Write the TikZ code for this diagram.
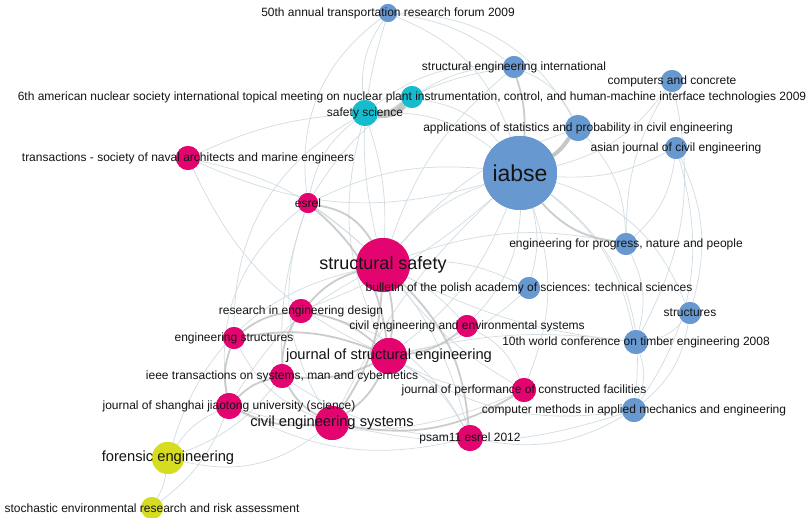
\documentclass[tikz,border=0pt]{standalone}
\usepackage{fontspec}
\setmainfont{Liberation Sans}
\begin{document}
\begin{tikzpicture}[x=1pt,y=-1pt,
  vtx/.style={circle,inner sep=0pt,draw=none},
  pink/.style={vtx,fill=nodepink},
  blue/.style={vtx,fill=nodeblue},
  cyan/.style={vtx,fill=nodecyan},
  yell/.style={vtx,fill=nodeyellow},
  lbl/.style={inner sep=0pt,text=labeltext,font=\fontsize{12}{14}\selectfont},
  lblm/.style={lbl,font=\fontsize{14.7}{17}\selectfont},
  lblb/.style={lbl,font=\fontsize{18}{20}\selectfont},
  faint/.style={draw=edgefaint,line width=0.7pt},
  midedge/.style={draw=edgegray,line width=1.8pt,opacity=0.8},
  heavy/.style={draw=edgegray,line width=4pt,opacity=0.9},
]
\definecolor{nodepink}{RGB}{228,4,112}
\definecolor{nodeblue}{RGB}{104,152,208}
\definecolor{nodecyan}{RGB}{22,188,206}
\definecolor{nodeyellow}{RGB}{214,220,32}
\definecolor{labeltext}{RGB}{20,20,20}
\definecolor{edgefaint}{RGB}{210,220,226}
\definecolor{edgegray}{RGB}{192,192,192}
\fill[white] (0,0) rectangle (806,517);
\useasboundingbox (0,0) rectangle (806,517);

% nodes
\node[blue,minimum size=18pt] (n50) at (388,13) {};
\node[blue,minimum size=22pt] (sei) at (514,67) {};
\node[blue,minimum size=22pt] (cc) at (672,81) {};
\node[cyan,minimum size=22pt] (ans) at (412,97) {};
\node[cyan,minimum size=26pt] (ss) at (365,113) {};
\node[blue,minimum size=26pt] (asp) at (578,128) {};
\node[blue,minimum size=22pt] (ajce) at (676,148) {};
\node[blue,minimum size=74pt] (iabse) at (520,173) {};
\node[pink,minimum size=24pt] (tsna) at (188,158) {};
\node[pink,minimum size=20pt] (esrel) at (308,203) {};
\node[pink,minimum size=54pt] (strs) at (383,265) {};
\node[blue,minimum size=22pt] (efp) at (626,244) {};
\node[blue,minimum size=22pt] (bpas) at (529,288) {};
\node[blue,minimum size=22pt] (structs) at (690,313) {};
\node[pink,minimum size=24pt] (red) at (301,311) {};
\node[pink,minimum size=22pt] (ceen) at (467,326) {};
\node[blue,minimum size=24pt] (wcte) at (636,342) {};
\node[pink,minimum size=22pt] (es) at (234,338) {};
\node[pink,minimum size=36pt] (jse) at (389,356) {};
\node[pink,minimum size=24pt] (ieee) at (282,376) {};
\node[pink,minimum size=24pt] (jpcf) at (524,390) {};
\node[blue,minimum size=24pt] (cmame) at (634,410) {};
\node[pink,minimum size=26pt] (jsju) at (229,406) {};
\node[pink,minimum size=34pt] (ces) at (332,423) {};
\node[pink,minimum size=26pt] (psam) at (470,438) {};
\node[yell,minimum size=32pt] (fe) at (168,458) {};
\node[yell,minimum size=22pt] (sera) at (152,508) {};

% edges
\path[faint]
  (n50) edge[bend right=20] (ss)
  (n50) edge[bend left=25] (iabse)
  (n50) edge[bend right=15] (strs)
  (n50) edge[bend left=15] (sei)
  (n50) edge[bend right=30] (esrel)
  (n50) edge[bend left=30] (asp)
  (sei) edge[bend right=20] (ss)
  (sei) edge[bend right=15] (strs)
  (sei) edge[bend left=20] (asp)
  (sei) edge[bend right=25] (esrel)
  (cc) edge[bend left=20] (iabse)
  (cc) edge[bend left=20] (wcte)
  (cc) edge[bend right=15] (efp)
  (ajce) edge[bend left=15] (iabse)
  (ajce) edge[bend left=20] (structs)
  (ajce) edge[bend left=20] (efp)
  (ajce) edge[bend left=25] (cmame)
  (tsna) edge[bend left=15] (strs)
  (tsna) edge[bend right=20] (jse)
  (tsna) edge[bend left=10] (ss)
  (esrel) edge[bend left=20] (ss)
  (esrel) edge[bend left=15] (iabse)
  (esrel) edge[bend right=25] (ces)
  (esrel) edge[bend right=10] (ieee)
  (esrel) edge[bend right=30] (jsju)
  (ss) edge[bend left=20] (iabse)
  (ss) edge[bend right=20] (jse)
  (ss) edge[bend right=30] (es)
  (ss) edge[bend left=10] (strs)
  (fe) edge[bend left=15] (jsju)
  (fe) edge[bend left=10] (sera)
  (fe) edge[bend right=15] (ieee)
  (fe) edge[bend left=30] (strs)
  (fe) edge[bend right=25] (ces)
  (sera) edge[bend right=15] (jsju)
  (bpas) edge[bend right=15] (iabse)
  (bpas) edge[bend right=15] (strs)
  (bpas) edge[bend left=15] (jse)
  (structs) edge[bend left=20] (wcte)
  (structs) edge[bend right=25] (iabse)
  (structs) edge[bend left=20] (cmame)
  (wcte) edge[bend left=20] (cmame)
  (wcte) edge[bend right=10] (jse)
  (wcte) edge[bend right=20] (iabse)
  (wcte) edge[bend left=10] (strs)
  (cmame) edge[bend left=20] (jse)
  (cmame) edge[bend right=30] (iabse)
  (cmame) edge[bend left=20] (psam)
  (cmame) edge[bend left=15] (ces)
  (jpcf) edge[bend left=15] (jse)
  (jpcf) edge[bend right=20] (iabse)
  (jpcf) edge[bend left=10] (strs)
  (jpcf) edge[bend right=20] (ceen)
  (jpcf) edge[bend left=20] (jsju)
  (psam) edge[bend left=20] (jsju)
  (psam) edge[bend right=20] (esrel)
  (psam) edge[bend right=15] (jse)
  (psam) edge[bend left=15] (ieee)
  (ceen) edge[bend right=20] (iabse)
  (ceen) edge[bend right=10] (strs)
  (iabse) edge[bend right=15] (strs)
  (iabse) edge[bend left=15] (jse)
  (iabse) edge[bend left=10] (red)
  (iabse) edge[bend right=10] (ces)
  (iabse) edge[bend left=20] (tsna)
  (efp) edge[bend right=15] (strs)
  (efp) edge[bend left=20] (wcte)
  (red) edge[bend left=25] (psam)
  (es) edge[bend right=20] (ces)
  (jsju) edge[bend left=15] (strs)
  (asp) edge[bend left=20] (efp)
  (asp) edge[bend right=15] (strs)
  (ans) edge[bend left=15] (sei)
  (ans) edge[bend left=20] (iabse);
\path[midedge]
  (iabse) edge[bend right=10] (sei)
  (iabse) edge[bend right=20] (efp)
  (strs) edge[bend left=10] (jse)
  (strs) edge[bend right=15] (red)
  (strs) edge[bend left=15] (ces)
  (strs) edge[bend left=20] (psam)
  (esrel) edge[bend left=25] (strs)
  (esrel) edge[bend left=20] (jse)
  (red) edge[bend left=15] (jse)
  (red) edge[bend right=15] (es)
  (es) edge[bend left=15] (jse)
  (es) edge[bend right=15] (jsju)
  (jse) edge[bend left=15] (ieee)
  (jse) edge[bend right=15] (ceen)
  (jse) edge[bend left=15] (ces)
  (ieee) edge[bend right=15] (ces)
  (ieee) edge[bend left=15] (red)
  (jsju) edge[bend right=15] (ces)
  (jsju) edge[bend left=15] (ieee)
  (ces) edge[bend right=20] (jpcf);
\path[heavy]
  (iabse) edge[bend right=10] (asp);
\draw[edgegray,line width=7pt,opacity=0.9] (ss) to[bend right=25] (ans);

% redraw nodes on top of edges
\foreach \n/\s/\c/\x/\y in {n50/18/nodeblue/388/13, sei/22/nodeblue/514/67, cc/22/nodeblue/672/81,
  ans/22/nodecyan/412/97, ss/26/nodecyan/365/113, asp/26/nodeblue/578/128, ajce/22/nodeblue/676/148,
  iabse/74/nodeblue/520/173, tsna/24/nodepink/188/158, esrel/20/nodepink/308/203, strs/54/nodepink/383/265,
  efp/22/nodeblue/626/244, bpas/22/nodeblue/529/288, structs/22/nodeblue/690/313, red/24/nodepink/301/311,
  ceen/22/nodepink/467/326, wcte/24/nodeblue/636/342, es/22/nodepink/234/338, jse/36/nodepink/389/356,
  ieee/24/nodepink/282/376, jpcf/24/nodepink/524/390, cmame/24/nodeblue/634/410, jsju/26/nodepink/229/406,
  ces/34/nodepink/332/423, psam/26/nodepink/470/438, fe/32/nodeyellow/168/458, sera/22/nodeyellow/152/508}
  {\fill[\c] (\x,\y) circle[radius=\s/2];}

% labels
\node[lbl] (l-n50) at (n50) {50th annual transportation research forum 2009};
\node[lbl] (l-sei) at (sei) {structural engineering international};
\node[lbl] (l-cc) at (cc) {computers and concrete};
\node[lbl] (l-ans) at (ans) {6th american nuclear society international topical meeting on nuclear plant instrumentation, control, and human-machine interface technologies 2009};
\node[lbl] (l-ss) at (ss) {safety science};
\node[lbl] (l-asp) at (asp) {applications of statistics and probability in civil engineering};
\node[lbl] (l-ajce) at (ajce) {asian journal of civil engineering};
\node[lbl,font=\fontsize{23}{26}\selectfont] (l-iabse) at (iabse) {iabse};
\node[lbl] (l-tsna) at (tsna) {transactions - society of naval architects and marine engineers};
\node[lbl] (l-esrel) at (esrel) {esrel};
\node[lblb] (l-strs) at (strs) {structural safety};
\node[lbl] (l-efp) at (efp) {engineering for progress, nature and people};
\node[lbl] (l-bpas) at (bpas) {bulletin of the polish academy of sciences: technical sciences};
\node[lbl] (l-structs) at (structs) {structures};
\node[lbl] (l-red) at (red) {research in engineering design};
\node[lbl] (l-ceen) at (ceen) {civil engineering and environmental systems};
\node[lbl] (l-wcte) at (wcte) {10th world conference on timber engineering 2008};
\node[lbl] (l-es) at (es) {engineering structures};
\node[lblm] (l-jse) at (jse) {journal of structural engineering};
\node[lbl] (l-ieee) at (ieee) {ieee transactions on systems, man and cybernetics};
\node[lbl] (l-jpcf) at (jpcf) {journal of performance of constructed facilities};
\node[lbl] (l-cmame) at (cmame) {computer methods in applied mechanics and engineering};
\node[lbl] (l-jsju) at (jsju) {journal of shanghai jiaotong university (science)};
\node[lblm] (l-ces) at (ces) {civil engineering systems};
\node[lbl] (l-psam) at (psam) {psam11 esrel 2012};
\node[lblm] (l-fe) at (fe) {forensic engineering};
\node[lbl] (l-sera) at (sera) {stochastic environmental research and risk assessment};
\end{tikzpicture}
\end{document}
